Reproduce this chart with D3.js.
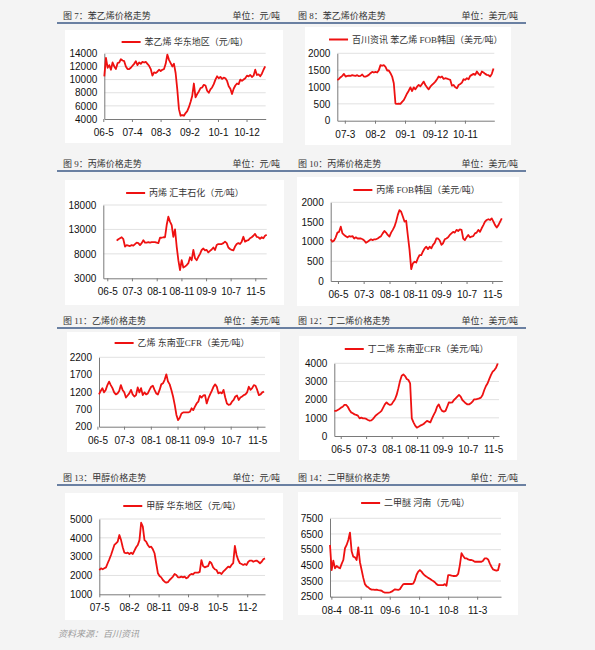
<!DOCTYPE html>
<html lang="zh">
<head>
<meta charset="UTF-8">
<title>化工品价格走势</title>
<script src="https://d3js.org/d3.v7.min.js"></script>
<style>
  body { margin: 0; background: #f4f4f4; }
  svg { display: block; }
  .hdr { font-family: "Liberation Serif", "Noto Sans CJK SC", serif; font-size: 9px; fill: #333; }
  .legend text { font-family: "Liberation Serif", "Noto Sans CJK SC", serif; font-size: 9px; fill: #333; }
  .axis text { font-family: "Liberation Sans", Arial, sans-serif; font-size: 10px; fill: #111; }
  .axis path, .axis line { stroke: #7a7a7a; }
  .foot { font-family: "Noto Sans CJK SC", sans-serif; font-size: 9px; fill: #9a9a9a; font-style: italic; }
</style>
</head>
<body>
<svg id="page" width="595" height="650"></svg>
<script>
// ---------- data ----------
const titles = ["图 7：苯乙烯价格走势", "图 8：苯乙烯价格走势", "图 9：丙烯价格走势", "图 10：丙烯价格走势",
                "图 11：乙烯价格走势", "图 12：丁二烯价格走势", "图 13：甲醇价格走势", "图 14：二甲醚价格走势"];
const units = ["单位：元/吨", "单位：美元/吨", "单位：元/吨", "单位：美元/吨",
               "单位：美元/吨", "单位：美元/吨", "单位：元/吨", "单位：元/吨"];
const legends = ["苯乙烯  华东地区（元/吨）", "百川资讯  苯乙烯  FOB韩国（美元/吨）", "丙烯  汇丰石化（元/吨）",
                 "丙烯  FOB韩国（美元/吨）", "乙烯  东南亚CFR（美元/吨）", "丁二烯  东南亚CFR（美元/吨）",
                 "甲醇  华东地区（元/吨）", "二甲醚  河南（元/吨）"];
const yTicks = [
  [4000, 6000, 8000, 10000, 12000, 14000],
  [0, 500, 1000, 1500, 2000],
  [3000, 8000, 13000, 18000],
  [0, 500, 1000, 1500, 2000],
  [200, 700, 1200, 1700, 2200],
  [0, 1000, 2000, 3000, 4000],
  [1000, 2000, 3000, 4000, 5000],
  [2500, 3500, 4500, 5500, 6500, 7500]
];
const xLabels = [
  ["06-5", "07-4", "08-3", "09-2", "10-1", "10-12"],
  ["07-3", "08-2", "09-1", "09-12", "10-11"],
  ["06-5", "07-3", "08-1", "08-11", "09-9", "10-7", "11-5"],
  ["06-5", "07-3", "08-1", "08-11", "09-9", "10-7", "11-5"],
  ["06-5", "07-3", "08-1", "08-11", "09-9", "10-7", "11-5"],
  ["06-5", "07-3", "08-1", "08-11", "09-9", "10-7", "11-5"],
  ["07-5", "08-2", "08-11", "09-8", "10-5", "11-2"],
  ["08-4", "08-11", "09-6", "10-1", "10-8", "11-3"]
];
// time span of each axis, and of the (evenly spaced) readings
const axisFrom = ["2006-05-13", "2006-12-07", "2006-03-13", "2006-02-04", "2006-05-19", "2006-02-13", "2007-05-01", "2008-03-22"];
const axisTo   = ["2011-07-13", "2011-09-25", "2011-09-19", "2011-08-28", "2011-07-28", "2011-07-10", "2011-07-16", "2011-08-22"];
const dataFrom = ["2006-05-13", "2006-12-07", "2006-08-25", "2006-02-04", "2006-05-19", "2006-02-13", "2007-05-01", "2008-03-22"];
const dataTo   = ["2011-07-07", "2011-09-16", "2011-09-19", "2011-08-22", "2011-07-16", "2011-06-25", "2011-07-16", "2011-08-13"];

const styreneEast = [10500, 13300, 11800, 12200, 11500, 12600, 12000, 11600, 12500, 12600, 13100, 12900, 12800, 12000,
  11600, 11600, 11800, 12100, 12400, 12800, 12200, 12600, 12400, 12700, 12600, 12700, 12400, 12100, 11600, 10600,
  11100, 11000, 11200, 11500, 11300, 11500, 11600, 12400, 13800, 13000, 12500, 12000, 12400, 11000, 8500, 5500,
  4500, 4600, 4500, 4900, 5200, 5800, 6600, 7500, 9400, 7300, 7800, 8200, 8700, 8800, 9200, 9100, 8300, 8000,
  8500, 8800, 9300, 10000, 10500, 10200, 10400, 10100, 10300, 10200, 9800, 9000, 8600, 7800, 8600, 9100, 9400,
  9300, 10000, 9800, 10000, 10200, 10600, 10500, 10700, 10400, 10600, 11500, 10700, 10800, 10500, 10900, 11500, 12000];
const styreneKorea = [1210, 1240, 1290, 1330, 1390, 1310, 1330, 1340, 1330, 1350, 1340, 1330, 1350, 1320, 1330, 1370,
  1310, 1310, 1330, 1360, 1410, 1450, 1430, 1450, 1430, 1500, 1650, 1630, 1650, 1600, 1490, 1490, 1410, 1310, 1110,
  510, 500, 510, 500, 560, 610, 710, 810, 890, 990, 880, 990, 930, 1010, 1060, 1020, 1090, 1160, 1060, 990, 930,
  1010, 1060, 1110, 1160, 1230, 1310, 1280, 1310, 1240, 1260, 1250, 1230, 1210, 1040, 1060, 990, 960, 1060, 1090,
  1130, 1230, 1210, 1260, 1230, 1330, 1360, 1390, 1360, 1460, 1390, 1350, 1460, 1430, 1390, 1360, 1350, 1310, 1390, 1550];
const propyleneHuifeng = [10700, 11000, 11200, 11400, 11000, 9500, 9800, 9700, 9600, 9800, 9700, 10000, 10300, 10200,
  9800, 10200, 10800, 10300, 10300, 10400, 10300, 10400, 10400, 10400, 10300, 10200, 11300, 11300, 11400, 11400,
  13900, 15600, 14600, 13900, 11500, 13000, 9500, 6700, 4700, 6700, 5200, 5400, 5700, 6100, 7300, 6700, 8800, 7100,
  6700, 7400, 8000, 8800, 9100, 8700, 8800, 8300, 8600, 8900, 9300, 8800, 9800, 10000, 10000, 10000, 10200, 10500,
  10200, 9300, 9000, 8800, 8700, 9500, 10000, 10200, 10000, 10500, 11500, 10500, 10700, 10800, 11200, 11400, 11700,
  12100, 11500, 11400, 11100, 11400, 11200, 11700, 11900];
const propyleneKorea = [1060, 1000, 1030, 1110, 1230, 1250, 1380, 1210, 1170, 1140, 1110, 1140, 1130, 1140, 1080, 1110,
  1080, 1080, 1080, 1060, 1030, 970, 1000, 1030, 1060, 1040, 1060, 1060, 1080, 1110, 1140, 1210, 1270, 1230, 1170,
  1130, 1230, 1300, 1380, 1510, 1680, 1800, 1760, 1640, 1510, 1530, 1150, 790, 300, 450, 490, 470, 580, 660, 660,
  750, 830, 870, 810, 870, 830, 920, 970, 1080, 1080, 1030, 920, 960, 1060, 1080, 1110, 1170, 1210, 1250, 1230,
  1300, 1270, 1310, 1300, 1080, 1040, 1110, 1170, 1110, 1130, 1140, 1210, 1230, 1300, 1250, 1340, 1420, 1510, 1550,
  1570, 1550, 1590, 1510, 1420, 1360, 1420, 1510, 1590];
const ethyleneSEA = [1130, 1230, 1310, 1190, 1260, 1400, 1500, 1400, 1310, 1190, 1130, 1160, 1230, 1400, 1260, 1190,
  1040, 1100, 1160, 1260, 1130, 1070, 1110, 1330, 1190, 1310, 1110, 1190, 1130, 1160, 1260, 1350, 1380, 1260, 1160,
  1130, 1260, 1420, 1450, 1550, 1710, 1500, 1420, 1260, 1070, 830, 540, 390, 460, 580, 610, 610, 610, 610, 630, 730,
  680, 780, 870, 920, 1090, 1040, 1100, 1110, 870, 1020, 1130, 1230, 1350, 1420, 1350, 1160, 1190, 1160, 1260, 1040,
  870, 830, 840, 920, 970, 1070, 1100, 970, 1040, 1070, 1110, 1130, 1190, 1350, 1260, 1310, 1400, 1380, 1260, 1110,
  1130, 1190, 1210];
const butadieneSEA = [1380, 1380, 1430, 1490, 1560, 1610, 1710, 1710, 1610, 1430, 1300, 1250, 1190, 1160, 1120, 970,
  1010, 970, 970, 940, 880, 840, 860, 940, 1060, 1160, 1230, 1300, 1380, 1560, 1740, 1850, 1760, 1710, 1740, 1890,
  2020, 2260, 2620, 3030, 3320, 3390, 3300, 3140, 3080, 2900, 970, 750, 570, 460, 510, 570, 610, 660, 750, 830, 790,
  750, 970, 1160, 1340, 1610, 1740, 1520, 1380, 1340, 1380, 1610, 1850, 1830, 1850, 1980, 2070, 2170, 2260, 2170,
  1980, 1890, 1800, 1740, 1740, 1800, 1890, 2020, 2020, 2040, 2070, 2110, 2260, 2530, 2750, 2900, 3140, 3360, 3540,
  3630, 3760, 3990];
const methanolEast = [2290, 2380, 2330, 2380, 2430, 2650, 2860, 3090, 3350, 3620, 3710, 3800, 4150, 3880, 3500, 3210,
  3180, 3210, 3140, 3210, 3140, 3320, 3500, 3620, 3880, 4800, 4590, 3880, 3800, 3620, 3500, 3530, 3390, 3180, 2650,
  2120, 1970, 1900, 1760, 1670, 1620, 1650, 1760, 1850, 1940, 2080, 2030, 1900, 1900, 1940, 1900, 1940, 1850, 1900,
  2030, 2080, 2060, 2150, 2150, 2150, 2190, 2820, 2500, 2430, 2470, 2500, 2730, 2650, 2430, 2330, 2290, 2120, 2150,
  2080, 2200, 2290, 2380, 2470, 2430, 2560, 2650, 3570, 3090, 2820, 2650, 2610, 2560, 2610, 2560, 2730, 2790, 2790,
  2730, 2770, 2790, 2730, 2650, 2730, 2860, 2910];
const dmeHenan = [5800, 4200, 4800, 4310, 4460, 4370, 4310, 4590, 4840, 5590, 5800, 6120, 6590, 5400, 5050, 5010, 4840,
  5650, 4700, 4200, 3700, 3300, 3160, 3100, 3000, 2950, 2950, 2930, 2950, 2920, 2900, 2880, 2800, 2760, 2760, 2760,
  2780, 2820, 2900, 2970, 2950, 2930, 2980, 3150, 3300, 3310, 3310, 3310, 3310, 3310, 3330, 3550, 3900, 4100, 4200,
  4100, 3950, 3850, 3780, 3700, 3640, 3560, 3500, 3420, 3300, 3240, 3240, 3240, 3240, 3300, 3200, 3880, 3880, 3850,
  3820, 3820, 3830, 3950, 4500, 5270, 5100, 4950, 4950, 4880, 4840, 4840, 4800, 4730, 4730, 4730, 4730, 4730, 4800,
  4950, 4950, 4880, 4630, 4410, 4240, 4200, 4160, 4200, 4630];

const series = [styreneEast, styreneKorea, propyleneHuifeng, propyleneKorea,
                ethyleneSEA, butadieneSEA, methanolEast, dmeHenan];

// ---------- layout ----------
const W = 595, H = 650;
const rowText = [18.5, 166.5, 323.5, 480.5];
const rowLine = [23, 171, 328, 485];
const panels = [[65, 30, 218, 113], [305, 27, 206, 118], [65, 180, 219, 125], [297, 177, 222, 129],
                [67, 332, 213, 120], [299, 336, 218, 124], [65, 493, 218, 127], [298, 492, 220, 123]];
// plot box: left, right, top, bottom, legend centre y
const plots = [
  { x0: 104.3, x1: 265.7, y0: 53.3, y1: 119, ly: 42 },
  { x0: 337.3, x1: 494.3, y0: 53.3, y1: 120.7, ly: 39.5 },
  { x0: 103.3, x1: 266.7, y0: 205, y1: 278.3, ly: 193 },
  { x0: 330.7, x1: 502.3, y0: 202.3, y1: 281, ly: 190 },
  { x0: 99, x1: 265, y0: 357.3, y1: 426.7, ly: 343 },
  { x0: 334.3, x1: 499, y0: 363.3, y1: 436, ly: 349 },
  { x0: 99.3, x1: 265, y0: 519, y1: 594.3, ly: 506 },
  { x0: 330, x1: 501, y0: 518.3, y1: 596.7, ly: 503 }
];

const parseLabel = d3.timeParse("%y-%m");
const parseDay = d3.timeParse("%Y-%m-%d");
const svg = d3.select("#page");

svg.append("rect").attr("width", W).attr("height", H).attr("fill", "#f4f4f4");

// header rules
rowLine.forEach(y => {
  svg.append("line")
    .attr("x1", 57).attr("x2", 526).attr("y1", y).attr("y2", y)
    .attr("stroke", "#3d5a87").attr("stroke-width", 1.3);
});

// white chart panels
svg.selectAll("rect.panel").data(panels).join("rect")
  .attr("class", "panel")
  .attr("x", d => d[0]).attr("y", d => d[1])
  .attr("width", d => d[2]).attr("height", d => d[3])
  .attr("fill", "#fff");

titles.forEach((t, i) => {
  const col = i % 2, row = Math.floor(i / 2);
  svg.append("text").attr("class", "hdr")
    .attr("x", col ? 298 : 63).attr("y", rowText[row]).text(t);
  svg.append("text").attr("class", "hdr").attr("text-anchor", "end")
    .attr("x", col ? 518 : 280).attr("y", rowText[row]).text(units[i]);
});

// one small line chart per panel
series.forEach((vals, i) => {
  const p = plots[i];
  const ticks = yTicks[i];
  const x = d3.scaleTime()
    .domain([parseDay(axisFrom[i]), parseDay(axisTo[i])])
    .range([p.x0, p.x1]);
  const y = d3.scaleLinear()
    .domain([ticks[0], ticks[ticks.length - 1]])
    .range([p.y1, p.y0]);

  const g = svg.append("g");

  // gridlines
  g.selectAll("line.grid").data(ticks.slice(1)).join("line")
    .attr("class", "grid")
    .attr("x1", p.x0).attr("x2", p.x1)
    .attr("y1", d => y(d)).attr("y2", d => y(d))
    .attr("stroke", "#d9d9d9").attr("stroke-width", 0.8);

  g.append("g").attr("class", "axis")
    .attr("transform", `translate(${p.x0},0)`)
    .call(d3.axisLeft(y).tickValues(ticks).tickSize(0).tickPadding(7).tickFormat(d3.format("d")));

  const labels = xLabels[i];
  g.append("g").attr("class", "axis")
    .attr("transform", `translate(0,${p.y1})`)
    .call(d3.axisBottom(x).tickValues(labels.map(parseLabel))
      .tickSize(3).tickSizeOuter(0).tickPadding(7)
      .tickFormat((d, j) => labels[j]));

  // readings are evenly spaced between first and last date
  const t0 = +parseDay(dataFrom[i]), t1 = +parseDay(dataTo[i]);
  const step = (t1 - t0) / (vals.length - 1);
  const line = d3.line()
    .x((d, k) => x(new Date(t0 + k * step)))
    .y(d => y(d));

  g.append("path")
    .datum(vals)
    .attr("fill", "none")
    .attr("stroke", "#ee1111")
    .attr("stroke-width", 1.8)
    .attr("stroke-linejoin", "round")
    .attr("d", line);

  // legend, centred over the plot
  const lg = g.append("g").attr("class", "legend");
  lg.append("line").attr("x1", 0).attr("x2", 19).attr("y1", 0).attr("y2", 0)
    .attr("stroke", "#ee1111").attr("stroke-width", 2);
  const txt = lg.append("text").attr("x", 23).attr("dy", "0.35em").text(legends[i]);
  const w = 23 + txt.node().getComputedTextLength();
  lg.attr("transform", `translate(${(p.x0 + p.x1) / 2 - w / 2},${p.ly})`);
});

svg.append("text").attr("class", "foot").attr("x", 58).attr("y", 637).text("资料来源：百川资讯");
</script>
</body>
</html>
